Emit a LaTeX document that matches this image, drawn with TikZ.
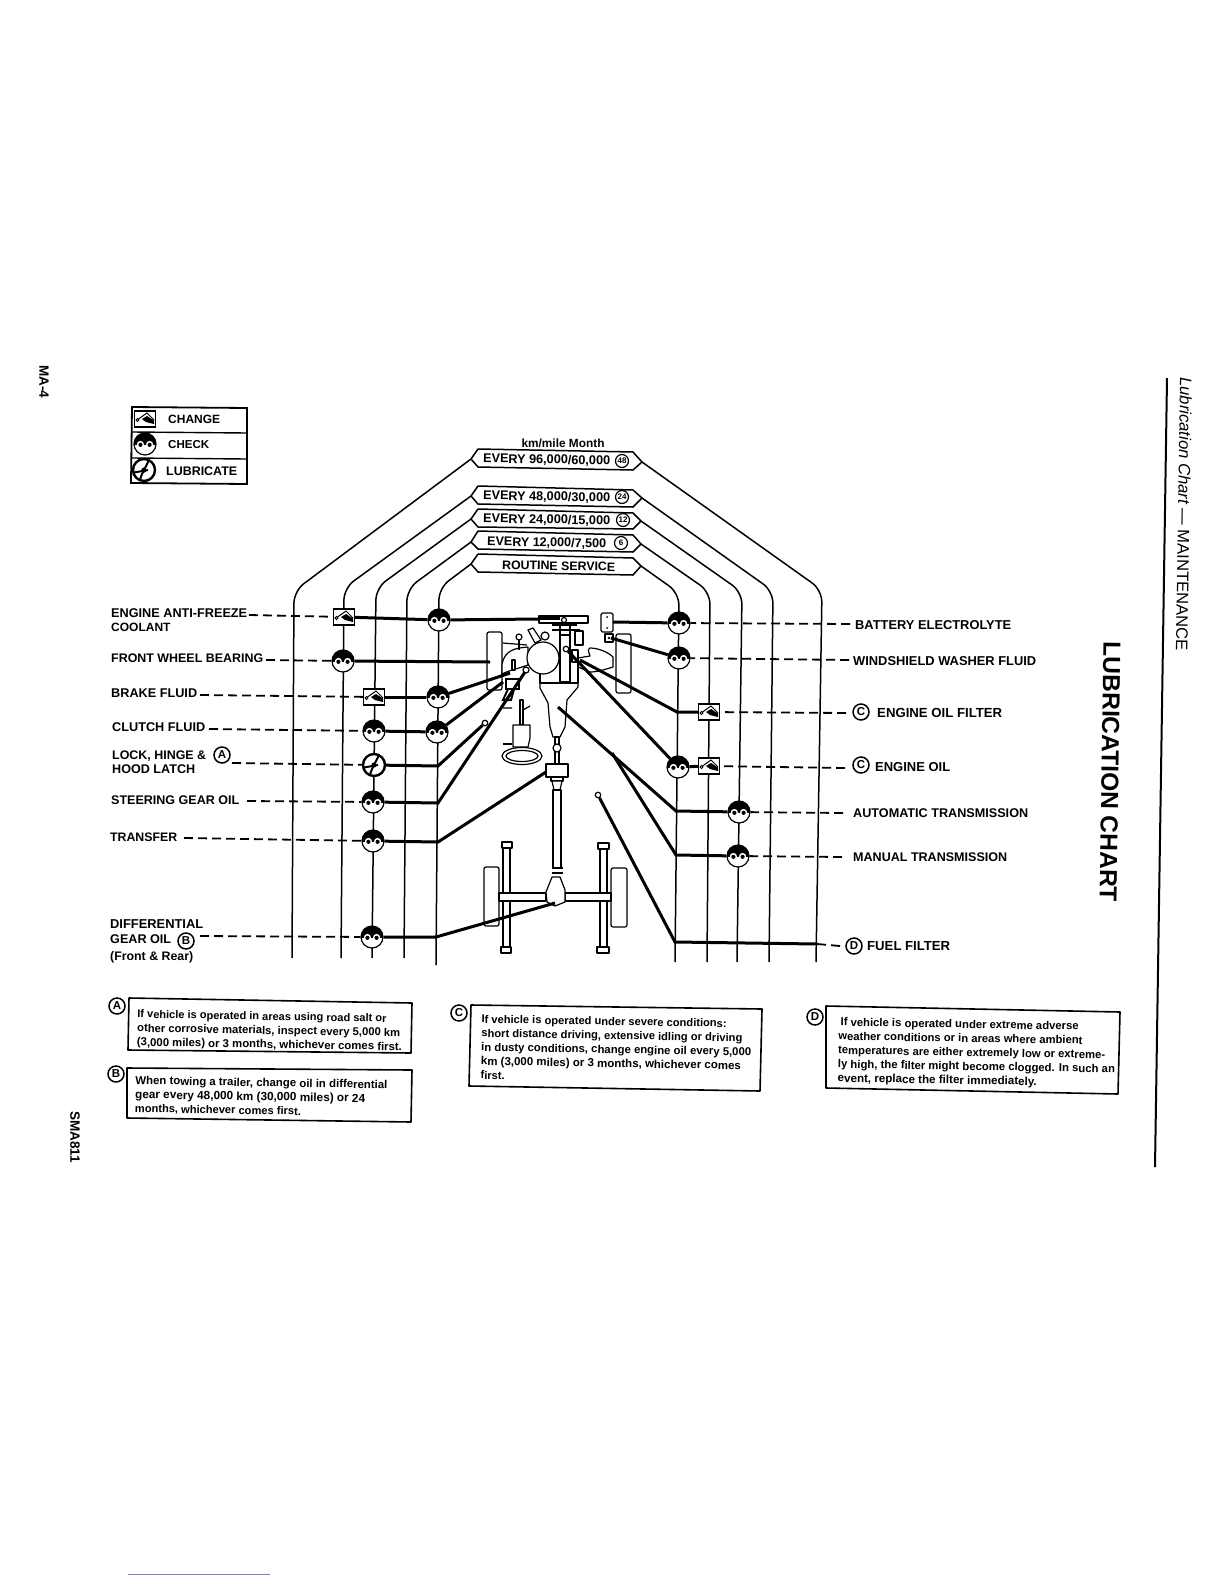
\documentclass[tikz,border=0pt]{standalone}
\usepackage{graphicx}
\usepackage{fontspec}
\setmainfont{Liberation Sans}
\newcommand\fw[2]{\resizebox{#1pt}{!}{#2}}
\tikzset{
  trunk/.style={line width=1.5pt,rounded corners=12pt},
  ban/.style={line width=1.5pt,line join=round,fill=white},
  lead/.style={line width=3pt},
  dash line/.style={line width=1.8pt,dash pattern=on 9pt off 5pt},
  car/.style={line width=1.2pt,fill=white,line join=round},
  carline/.style={line width=1.2pt},
  notebox/.style={line width=1.6pt,line join=round},
  lab/.style={anchor=west,inner sep=0pt,align=left,font=\fontsize{12}{14.5}\selectfont\bfseries},
  note/.style={anchor=west,inner sep=0pt,align=left,rotate=-1,font=\fontsize{10.5}{14}\selectfont\bfseries},
  circ/.style={circle,draw,line width=1.5pt,inner sep=0pt,minimum size=16pt,font=\fontsize{11.5}{11.5}\selectfont\bfseries},
  numc/.style={circle,draw,line width=1.2pt,inner sep=0pt,minimum size=13pt,font=\fontsize{8}{8}\selectfont\bfseries},
  checksym/.style={circle,draw,line width=1.2pt,fill=white,minimum size=22pt,inner sep=0pt,
    path picture={\begin{scope}[shift={(path picture bounding box.center)}]
      \fill[black] (-15,-15) rectangle (15,0.5);
      \fill[white] (-4.6,0.5) circle[radius=3.6];
      \fill[white] (4.6,0.5) circle[radius=3.6];
      \fill[black] (-4.6,0.8) circle[radius=2.1];
      \fill[black] (4.6,0.8) circle[radius=2.1];
    \end{scope}}},
  changesym/.style={rectangle,draw,line width=1.4pt,fill=white,minimum width=21pt,minimum height=16pt,inner sep=0pt,
    path picture={\begin{scope}[shift={(path picture bounding box.center)}]
      \draw[black,line width=.9pt] (-7.5,1) circle[radius=1.5];
      \draw[black,line width=1pt] (-6.5,0) -- (2,-6) -- (9,1);
      \fill[black] (-3,0) -- (2,-3) -- (9,1.5) -- (9,5) -- (1,3) -- cycle;
    \end{scope}}},
  lubesym/.style={circle,draw,line width=2.4pt,fill=white,minimum size=22pt,inner sep=0pt,
    path picture={\begin{scope}[shift={(path picture bounding box.center)}]
      \draw[black,line width=2pt] (5,-10) .. controls (2,-3) and (-2,2) .. (-4,10);
      \draw[black,line width=2pt] (-10,2.5) -- (4,0);
      \fill[black] (0,0) circle[radius=2.6];
    \end{scope}}},
  point/.style={circle,draw,line width=1.2pt,fill=white,inner sep=0pt,minimum size=5.5pt},
}
\begin{document}
\begin{tikzpicture}[x=1pt,y=-1pt]
\useasboundingbox (0,0) rectangle (1224,1584);
\fill[white] (0,0) rectangle (1224,1584);
% ---- free ends
\coordinate (b96l) at (471,459);  \coordinate (b96r) at (642,462);
\coordinate (b48l) at (471,496);  \coordinate (b48r) at (642,498);
\coordinate (b24l) at (471,519);  \coordinate (b24r) at (641,521);
\coordinate (b12l) at (471,542);  \coordinate (b12r) at (641,544);
\coordinate (brsl) at (471,564);  \coordinate (brsr) at (641,566);
\coordinate (e96l) at (292,958);  \coordinate (e96r) at (816,962);
\coordinate (e48l) at (341,958);  \coordinate (e48r) at (769,962);
\coordinate (e24l) at (372,958);  \coordinate (e24r) at (737,962);
\coordinate (e12l) at (404,958);  \coordinate (e12r) at (707,962);
\coordinate (ersl) at (436,965);  \coordinate (ersr) at (675,962);
% ---- trunk lines
\draw[trunk] (b96l) -- (294,591) -- (e96l);
\draw[trunk] (b48l) -- (344,588) -- (e48l);
\draw[trunk] (b24l) -- (376,588) -- (e24l);
\draw[trunk] (b12l) -- (407,589) -- (e12l);
\draw[trunk] (brsl) -- (439,588) -- (ersl);
\draw[trunk] (b96r) -- (822,590) -- (e96r);
\draw[trunk] (b48r) -- (773,591) -- (e48r);
\draw[trunk] (b24r) -- (742,592) -- (e24r);
\draw[trunk] (b12r) -- (710,592) -- (e12r);
\draw[trunk] (brsr) -- (679,593) -- (ersr);
% ---- banners
\draw[ban] (b96l) -- (478,449) -- (633,452) -- (b96r) -- (633,470) -- (478,467) -- cycle;
\draw[ban] (b48l) -- (478,486) -- (633,490) -- (b48r) -- (633,507) -- (478,504) -- cycle;
\draw[ban] (b24l) -- (478,509) -- (633,513) -- (b24r) -- (633,529) -- (478,527) -- cycle;
\draw[ban] (b12l) -- (478,531) -- (633,535) -- (b12r) -- (633,552) -- (478,549) -- cycle;
\draw[ban] (brsl) -- (478,554) -- (633,558) -- (brsr) -- (633,575) -- (478,572) -- cycle;
\node[lab,anchor=center] (kmm) at (563,443) {\fw{83}{\fontsize{10}{10}\selectfont km/mile Month}};
\node[lab,rotate=-1] (t96) at (483,459) {\fw{127}{EVERY 96,000/60,000}};
\node[lab,rotate=-1] (t48) at (483,496) {\fw{127}{EVERY 48,000/30,000}};
\node[lab,rotate=-1] (t24) at (483,519) {\fw{127}{EVERY 24,000/15,000}};
\node[lab,rotate=-1] (t12) at (487,542) {\fw{119}{EVERY 12,000/7,500}};
\node[lab,rotate=-1] (trs) at (502,565) {\fw{113}{ROUTINE SERVICE}};
\node[numc] (n48) at (622,461) {48};
\node[numc] (n24) at (622,497) {24};
\node[numc] (n12) at (623,520) {12};
\node[numc] (n6) at (621,543) {6};
% ---- legend
\draw[line width=1.8pt] (132,407) -- (247,408) -- (247,484) -- (131,483) -- cycle;
\draw[line width=1.4pt] (132,432) -- (247,433);
\draw[line width=1.4pt] (132,458) -- (247,459);
\node[changesym] (lgA) at (145,419) {};
\node[checksym] (lgB) at (145,444) {};
\node[lubesym] (lgC) at (144,470) {};
\node[lab] (lgAt) at (168,419) {\fw{52}{CHANGE}};
\node[lab] (lgBt) at (168,445) {\fw{41}{CHECK}};
\node[lab] (lgCt) at (166,471) {\fw{71}{LUBRICATE}};
% ---- car: front
\draw[car,rounded corners=2pt] (487,632) rectangle (502,690);
\draw[car,rounded corners=2pt] (616,634) rectangle (631,693);
\draw[car] (502,664) .. controls (505,650) and (515,648) .. (528,647) -- (528,665) .. controls (520,668) and (510,670) .. (502,674) -- cycle;
\draw[car] (578,658) -- (590,656) .. controls (589,652) and (587,650) .. (590,648) .. controls (598,648) and (608,652) .. (613,657) -- (613,667) .. controls (606,669) and (598,672) .. (590,672) -- (578,667) -- cycle;
\draw[carline] (503,643) -- (527,645);
\draw[carline] (519,637) -- (519,650);
\draw[car] (519,637) circle[radius=3];
\draw[car] (528,630) -- (533,628) -- (541,640) -- (535,643) -- cycle;
\draw[car] (545,636) circle[radius=4];
\draw[car] (540,683) -- (578,683) -- (578,687) -- (567,700) -- (565,727) -- (560,737) -- (553,737) -- (550,727) -- (548,703) -- (540,688) -- cycle;
\draw[car] (540,660) rectangle (578,683);
\draw[car] (560,635) rectangle (570,682);
\draw[car] (543,658) circle[radius=16];
\draw[car] (575,631) rectangle (583,645);
\draw[carline] (552,625) -- (577,625) (560,625) -- (560,635) (570,625) -- (570,635) (552,630) -- (580,630);
\draw[car] (539,616) rectangle (588,623);
\fill (539,616) rectangle (560,620);
\draw[car] (564,620) circle[radius=2.5];
\draw[car] (572,650) rectangle (578,662);
% steering
\draw[line width=2pt,fill=white] (506,679) rectangle (519,689);
\draw[line width=2pt] (508,689) -- (503,700) -- (511,700) -- (514,689);
\draw[car] (512,660) rectangle (515,670);
\draw[car] (526,670) circle[radius=3];
\draw[car] (520,700) rectangle (523,725);
\draw[carline] (503,708) -- (512,708) (523,710) -- (530,706);
\draw[car] (513,725) -- (530,725) -- (530,738) -- (528,747) -- (513,747) -- cycle;
\draw[car] (522,756) ellipse[x radius=20,y radius=8.5];
\draw[car] (522,756) ellipse[x radius=16,y radius=5.5];
\draw[carline] (503,744) -- (512,744);
% shafts
\draw[car] (555,737) rectangle (559,764);
\draw[car] (557,748) circle[radius=4];
\draw[car] (546,764) rectangle (568,777);
\draw[car] (551,777) rectangle (563,781);
\draw[car] (552,781) -- (562,781) -- (560,790) -- (554,790) -- cycle;
\draw[car] (553,790) rectangle (561,868);
\draw[line width=1.5pt] (552,868) -- (563,868) (552,873) -- (563,873);
% rear
\draw[car,rounded corners=2pt] (484,867) rectangle (499,926);
\draw[car,rounded corners=2pt] (611,868) rectangle (627,927);
\draw[car] (503,848) rectangle (510,947);
\draw[car] (600,849) rectangle (607,947);
\draw[car] (502,842) rectangle (512,848);
\draw[car] (501,947) rectangle (511,953);
\draw[car] (598,843) rectangle (609,849);
\draw[car] (597,947) rectangle (609,953);
\draw[car] (499,893) rectangle (546,901);
\draw[car] (565,893) rectangle (611,901);
\draw[car] (552,877) -- (560,877) -- (565,890) -- (565,902) -- (555,906) -- (547,902) -- (546,892) -- cycle;
% ---- free ends of the leaders
\coordinate (pRad) at (540,619);
\coordinate (pWheel) at (490,662);
\coordinate (pBrake) at (510,673);
\coordinate (pClutch) at (503,682);
\coordinate (pSteer) at (525,672);
\coordinate (pTrans) at (546,772);
\coordinate (pDiff) at (555,903);
\coordinate (pBatt) at (613,622);
\coordinate (pWash) at (611,638);
\coordinate (pFilt) at (580,660);
\coordinate (pAuto) at (558,707);
\coordinate (pMan) at (612,753);
\coordinate (jLock) at (438,766);
\coordinate (jSteer) at (438,803);
\coordinate (jTran) at (438,842);
\coordinate (jDiff) at (436,937);
\coordinate (jFilt) at (677,712);
\coordinate (jAuto) at (676,811);
\coordinate (jMan) at (676,855);
\coordinate (jFuel) at (675,942);
\coordinate (jFuelR) at (817,944);
% ---- battery and washer tank
\draw[car,rounded corners=1.5pt] (601,613) rectangle (613,632);
\fill (607,617) circle[radius=1] (607,628) circle[radius=1];
\draw[car] (605,634) rectangle (613,642);
\fill (609,638) circle[radius=1.4];
% ---- service points
\node[point] (pLock) at (485,723) {};
\node[point] (pOil) at (566,649) {};
\node[point] (pFuel) at (598,795) {};
% ---- symbols
\node[changesym] (sCool) at (344,617) {};
\node[checksym] (cCool) at (439,620) {};
\node[checksym] (sFWB) at (343,661) {};
\node[changesym] (sBrake) at (374,697) {};
\node[checksym] (cBrake) at (438,697) {};
\node[checksym] (sClutch) at (374,731) {};
\node[checksym] (cClutch) at (437,732) {};
\node[lubesym] (sLock) at (374,765) {};
\node[checksym] (sSteer) at (373,802) {};
\node[checksym] (sTran) at (373,841) {};
\node[checksym] (sDiff) at (372,937) {};
\node[checksym] (sBatt) at (679,623) {};
\node[checksym] (sWash) at (679,658) {};
\node[changesym] (sFilt) at (709,712) {};
\node[checksym] (sOil) at (678,767) {};
\node[changesym] (sOilC) at (709,766) {};
\node[checksym] (sAuto) at (739,812) {};
\node[checksym] (sMan) at (738,856) {};
% ---- heavy leaders
\draw[lead] (sCool) -- (cCool);
\draw[lead] (cCool) -- (pRad);
\draw[lead] (sFWB) -- (pWheel);
\draw[lead] (sBrake) -- (cBrake);
\draw[lead] (cBrake) -- (pBrake);
\draw[lead] (sClutch) -- (cClutch);
\draw[lead] (cClutch) -- (pClutch);
\draw[lead] (sLock) -- (jLock) -- (pLock);
\draw[lead] (sSteer) -- (jSteer) -- (pSteer);
\draw[lead] (sTran) -- (jTran) -- (pTrans);
\draw[lead] (sDiff) -- (jDiff) -- (pDiff);
\draw[lead] (sBatt) -- (pBatt);
\draw[lead] (sWash) -- (pWash);
\draw[lead] (sFilt) -- (jFilt) -- (pFilt);
\draw[lead] (sOilC) -- (sOil);
\draw[lead] (sOil) -- (pOil);
\draw[lead] (sAuto) -- (jAuto) -- (pAuto);
\draw[lead] (sMan) -- (jMan) -- (pMan);
\draw[lead] (jFuelR) -- (jFuel) -- (pFuel);
% ---- left labels
\node[lab] (lCool) at (111,620) {\fw{136}{ENGINE ANTI-FREEZE}\\COOLANT};
\node[lab] (lFWB) at (111,658) {\fw{152}{FRONT WHEEL BEARING}};
\node[lab] (lBrake) at (111,693) {\fw{86}{BRAKE FLUID}};
\node[lab] (lClutch) at (112,727) {\fw{93}{CLUTCH FLUID}};
\node[lab] (lLock) at (112,762) {\fw{94}{LOCK, HINGE \&}\\\fw{83}{HOOD LATCH}};
\node[circ] (cA) at (222,755) {A};
\node[lab] (lSteer) at (111,800) {\fw{128}{STEERING GEAR OIL}};
\node[lab] (lTran) at (110,837) {\fw{67}{TRANSFER}};
\node[lab] (lDiff) at (110,941) {\fw{93}{DIFFERENTIAL}\\[1pt]\fw{61}{GEAR OIL}\\[2pt]\fw{83}{(Front \& Rear)}};
\node[circ] (cB) at (186,941) {B};
% ---- right labels
\node[lab] (rBatt) at (855,625) {\fw{156}{BATTERY ELECTROLYTE}};
\node[lab] (rWash) at (853,661) {\fw{183}{WINDSHIELD WASHER FLUID}};
\node[circ] (cC1) at (861,712) {C};
\node[lab] (rFilt) at (877,713) {\fw{125}{ENGINE OIL FILTER}};
\node[circ] (cC2) at (861,765) {C};
\node[lab] (rOil) at (875,767) {\fw{75}{ENGINE OIL}};
\node[lab] (rAuto) at (853,813) {\fw{175}{AUTOMATIC TRANSMISSION}};
\node[lab] (rMan) at (853,857) {\fw{154}{MANUAL TRANSMISSION}};
\node[circ] (cD1) at (854,946) {D};
\node[lab] (rFuel) at (867,946) {\fw{83}{FUEL FILTER}};
% ---- dashed leaders
\coordinate (dCool) at (249,615);
\coordinate (dFWB) at (266,660);
\coordinate (dBrake) at (200,695);
\coordinate (dClutch) at (209,729);
\coordinate (dLock) at (232,763);
\coordinate (dSteer) at (247,801);
\coordinate (dTran) at (184,838);
\coordinate (dDiff) at (200,936);
\coordinate (dBatt) at (850,624);
\coordinate (dWash) at (849,660);
\coordinate (dFilt) at (846,713);
\coordinate (dOil) at (845,768);
\coordinate (dAuto) at (843,813);
\coordinate (dMan) at (842,857);
\coordinate (dFuel) at (840,946);
\draw[dash line] (dCool) -- (sCool);
\draw[dash line] (dFWB) -- (sFWB);
\draw[dash line] (dBrake) -- (sBrake);
\draw[dash line] (dClutch) -- (sClutch);
\draw[dash line] (dLock) -- (sLock);
\draw[dash line] (dSteer) -- (sSteer);
\draw[dash line] (dTran) -- (sTran);
\draw[dash line] (dDiff) -- (sDiff);
\draw[dash line] (dBatt) -- (sBatt);
\draw[dash line] (dWash) -- (sWash);
\draw[dash line] (dFilt) -- (sFilt);
\draw[dash line] (dOil) -- (sOilC);
\draw[dash line] (dAuto) -- (sAuto);
\draw[dash line] (dMan) -- (sMan);
\draw[dash line] (dFuel) -- (jFuelR);
% ---- notes
\draw[notebox] (129,998) -- (412,1003) -- (411,1053) -- (128,1050) -- cycle;
\node[circ] (nA) at (117,1006) {A};
\node[note] (tA) at (137,1029) {\fw{249}{If vehicle is operated in areas using road salt or}\\\fw{263}{other corrosive materials, inspect every 5,000 km}\\\fw{265}{(3,000 miles) or 3 months, whichever comes first.}};
\draw[notebox] (127,1068) -- (412,1070) -- (411,1122) -- (127,1118) -- cycle;
\node[circ] (nB) at (116,1074) {B};
\node[note] (tB) at (135,1095) {\fw{252}{When towing a trailer, change oil in differential}\\\fw{230}{gear every 48,000 km (30,000 miles) or 24}\\\fw{166}{months, whichever comes first.}};
\draw[notebox] (471,1005) -- (762,1009) -- (760,1091) -- (469,1086) -- cycle;
\node[circ] (nC) at (459,1013) {C};
\node[note] (tC) at (481,1047) {\fw{245}{If vehicle is operated under severe conditions:}\\\fw{261}{short distance driving, extensive idling or driving}\\\fw{270}{in dusty conditions, change engine oil every 5,000}\\\fw{260}{km (3,000 miles) or 3 months, whichever comes}\\\fw{24}{first.}};
\draw[notebox] (826,1006) -- (1120,1012) -- (1118,1094) -- (826,1088) -- cycle;
\node[circ] (nD) at (815,1017) {D};
\node[note] (tD) at (838,1051) {\hspace*{2pt}\fw{238}{If vehicle is operated under extreme adverse}\\\fw{244}{weather conditions or in areas where ambient}\\\fw{267}{temperatures are either extremely low or extreme-}\\\fw{277}{ly high, the filter might become clogged. In such an}\\\fw{199}{event, replace the filter immediately.}};
% ---- page furniture
\node[lab,anchor=center,rotate=-90] (mMA) at (44,382) {\fw{33}{MA-4}};
\node[lab,anchor=center,rotate=-90] (mSM) at (75,1137) {\fw{52}{SMA811}};
\draw[line width=2pt] (1167,378) -- (1155,1167);
\node[anchor=center,inner sep=0pt,rotate=-90.9] (tHead) at (1184,514) {\fw{273}{\fontsize{16}{16}\selectfont\itshape Lubrication Chart \upshape--- MAINTENANCE}};
\node[anchor=center,inner sep=0pt,rotate=-90.9,font=\fontsize{24}{24}\selectfont\bfseries] (tTitle) at (1110,772) {\fw{260}{LUBRICATION CHART}};
\draw[line width=1pt,color=blue!45!gray!70] (128,1574) -- (270,1574);
\end{tikzpicture}
\end{document}
